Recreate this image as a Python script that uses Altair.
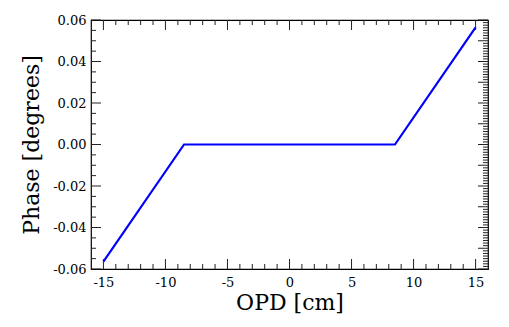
import altair as alt
import pandas as pd

# Data
opd = [-15.0, -8.5, 8.5, 15.0]
phase = [-0.0565, 0.0, 0.0, 0.0565]

x_major = [-15, -10, -5, 0, 5, 10, 15]
x_minor = [v for v in range(-15, 16) if v % 5 != 0]
y_major = [-0.06, -0.04, -0.02, 0.0, 0.02, 0.04, 0.06]
y_minor = [round(-0.06 + 0.005 * i, 4) for i in range(25) if i % 4 != 0]
yr_major = [round(-0.06 + 0.01 * i, 4) for i in range(13)]
yr_minor = [round(-0.06 + 0.00125 * i, 5) for i in range(97) if i % 8 != 0]

W, H = 397, 249
FONT = "DejaVu Serif"
MAJ, MIN = 10, 5

xs = alt.Scale(domain=[-16, 16], nice=False, zero=False)
ys = alt.Scale(domain=[-0.06, 0.06], nice=False, zero=False)

df = pd.DataFrame({"opd": opd, "phase": phase})

line = alt.Chart(df).mark_line(color="#0000ff", strokeWidth=2.2, clip=True).encode(
    x=alt.X("opd:Q", scale=xs, title="OPD [cm]",
            axis=alt.Axis(values=x_major, ticks=False, domain=False, grid=False,
                          labelPadding=7, titlePadding=3,
                          labelExpr="(datum.value < 0 ? '-' : '') + format(abs(datum.value), 'd')")),
    y=alt.Y("phase:Q", scale=ys, title="Phase [degrees]",
            axis=alt.Axis(values=y_major, ticks=False, domain=False, grid=False,
                          labelPadding=5, titlePadding=9,
                          labelExpr="(datum.value < 0 ? '-' : '') + format(abs(datum.value), '.2f')")),
)

def xticks(vals, length, top):
    d = pd.DataFrame({"v": vals})
    y0, y1 = (0, length) if top else (H, H - length)
    return alt.Chart(d).mark_rule(color="#222", strokeWidth=1).encode(
        x=alt.X("v:Q", scale=xs, axis=None), y=alt.value(y0), y2=alt.value(y1))

def yticks(vals, length, right):
    d = pd.DataFrame({"v": vals})
    x0, x1 = (W, W - length) if right else (0, length)
    return alt.Chart(d).mark_rule(color="#222", strokeWidth=1).encode(
        y=alt.Y("v:Q", scale=ys, axis=None), x=alt.value(x0), x2=alt.value(x1))

chart = alt.layer(
    line,
    xticks(x_major, MAJ, False), xticks(x_minor, MIN, False),
    xticks(x_major, MAJ, True), xticks(x_minor, MIN, True),
    yticks(y_major, MAJ, False), yticks(y_minor, MIN, False),
    yticks(yr_major, MAJ, True), yticks(yr_minor, MIN, True),
).resolve_axis(x="independent", y="independent").properties(
    width=W, height=H,
    autosize=alt.AutoSizeParams(type="none"),
    padding={"left": 83, "top": 12, "right": 13, "bottom": 50},
    background="white",
).configure(font=FONT).configure_axis(
    labelFont=FONT, labelFontSize=13, labelColor="black",
    titleFont=FONT, titleFontSize=22, titleFontWeight="normal", titleColor="black",
).configure_view(stroke="black", strokeWidth=1.2)

chart.save("out.html", embed_options={"renderer": "svg", "actions": False})
